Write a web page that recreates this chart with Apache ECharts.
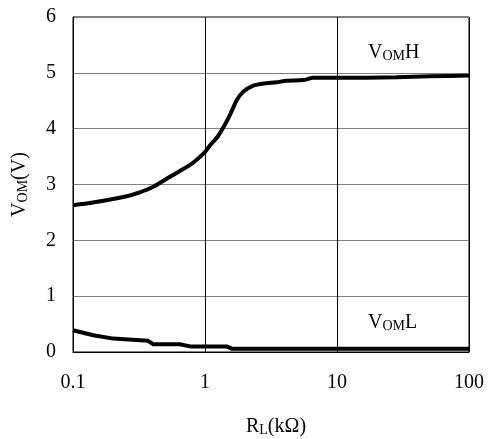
<!DOCTYPE html>
<html>
<head>
<meta charset="utf-8">
<script src="https://cdn.jsdelivr.net/npm/echarts@6/dist/echarts.min.js"></script>
<style>
  html, body { margin: 0; padding: 0; background: #fff; }
  #chart { width: 490px; height: 439px; }
</style>
</head>
<body>
<div id="chart"></div>
<script>
// Load resistance RL (kΩ) and output voltages
const rlHigh = [0.1, 0.127, 0.17, 0.255, 0.32, 0.406, 0.543, 0.77, 1.0, 1.09, 1.25, 1.42, 1.54, 1.74, 1.95, 2.32, 2.8, 3.48, 4.13, 5.55, 6.6, 10, 28, 50, 100];
const vomHigh = [2.63, 2.66, 2.71, 2.79, 2.86, 2.96, 3.14, 3.35, 3.58, 3.70, 3.86, 4.08, 4.24, 4.51, 4.66, 4.77, 4.81, 4.83, 4.86, 4.87, 4.91, 4.91, 4.92, 4.94, 4.95];

const rlLow = [0.1, 0.1425, 0.202, 0.322, 0.37, 0.406, 0.645, 0.77, 1.46, 1.59, 10, 100];
const vomLow = [0.39, 0.30, 0.24, 0.21, 0.20, 0.14, 0.14, 0.10, 0.10, 0.06, 0.06, 0.06];

const xTicks = [0.1, 1, 10, 100];
const yTicks = [0, 1, 2, 3, 4, 5, 6];

const FONT = '"Liberation Serif", "Times New Roman", serif';

const pairs = (xs, ys) => xs.map((x, i) => [x, ys[i]]);

// Rich styles: normal letters and the smaller capitals used in subscripts
const richAxis = {
  n: { fontFamily: FONT, fontSize: 20, color: '#000' },
  s: { fontFamily: FONT, fontSize: 14, color: '#000', verticalAlign: 'bottom' }
};
const richLabel = {
  n: { fontFamily: FONT, fontSize: 20, fill: '#000' },
  s: { fontFamily: FONT, fontSize: 14, fill: '#000', verticalAlign: 'bottom' }
};

const chart = echarts.init(document.getElementById('chart'));
chart.setOption({
  animation: false,
  backgroundColor: '#fff',
  grid: {
    left: 73, right: 21, top: 17, bottom: 87,
    containLabel: false,
    outerBoundsMode: 'none',
    show: true, borderColor: '#000', borderWidth: 1
  },
  xAxis: {
    type: 'log',
    logBase: 10,
    min: xTicks[0],
    max: xTicks[xTicks.length - 1],
    name: '{n|R}{s|L}{n|(kΩ)}',
    nameLocation: 'middle',
    nameGap: 65,
    nameTextStyle: { rich: richAxis, padding: [0, 0, 0, 10] },
    axisLine: { lineStyle: { color: '#000', width: 1 } },
    axisTick: { show: false },
    minorTick: { show: false },
    axisLabel: {
      fontFamily: FONT, fontSize: 20, color: '#000', margin: 21,
      formatter: v => {
        const t = xTicks.find(k => Math.abs(k - v) / k < 1e-6);
        return t === undefined ? '' : String(t);
      }
    },
    splitLine: { show: true, lineStyle: { color: '#000', width: 1 } }
  },
  yAxis: {
    type: 'value',
    min: yTicks[0],
    max: yTicks[yTicks.length - 1],
    interval: 1,
    name: '{n|V}{s|OM}{n|(V)}',
    nameLocation: 'middle',
    nameGap: 43,
    nameTextStyle: { rich: richAxis },
    axisLine: { show: true, lineStyle: { color: '#000', width: 1 } },
    axisTick: { show: false },
    axisLabel: { fontFamily: FONT, fontSize: 20, color: '#000', margin: 17 },
    splitLine: { show: true, lineStyle: { color: '#808080', width: 1 } }
  },
  series: [
    {
      name: 'VOMH',
      type: 'line',
      data: pairs(rlHigh, vomHigh),
      showSymbol: false,
      smooth: 0.2,
      lineStyle: { color: '#000', width: 4 },
      z: 3
    },
    {
      name: 'VOML',
      type: 'line',
      data: pairs(rlLow, vomLow),
      showSymbol: false,
      smooth: false,
      lineStyle: { color: '#000', width: 4 },
      z: 3
    }
  ],
  graphic: [
    {
      type: 'text', left: 368, top: 43, z: 10,
      style: { text: '{n|V}{s|OM}{n|H}', rich: richLabel }
    },
    {
      type: 'text', left: 368, top: 313, z: 10,
      style: { text: '{n|V}{s|OM}{n|L}', rich: richLabel }
    }
  ]
});
</script>
</body>
</html>
